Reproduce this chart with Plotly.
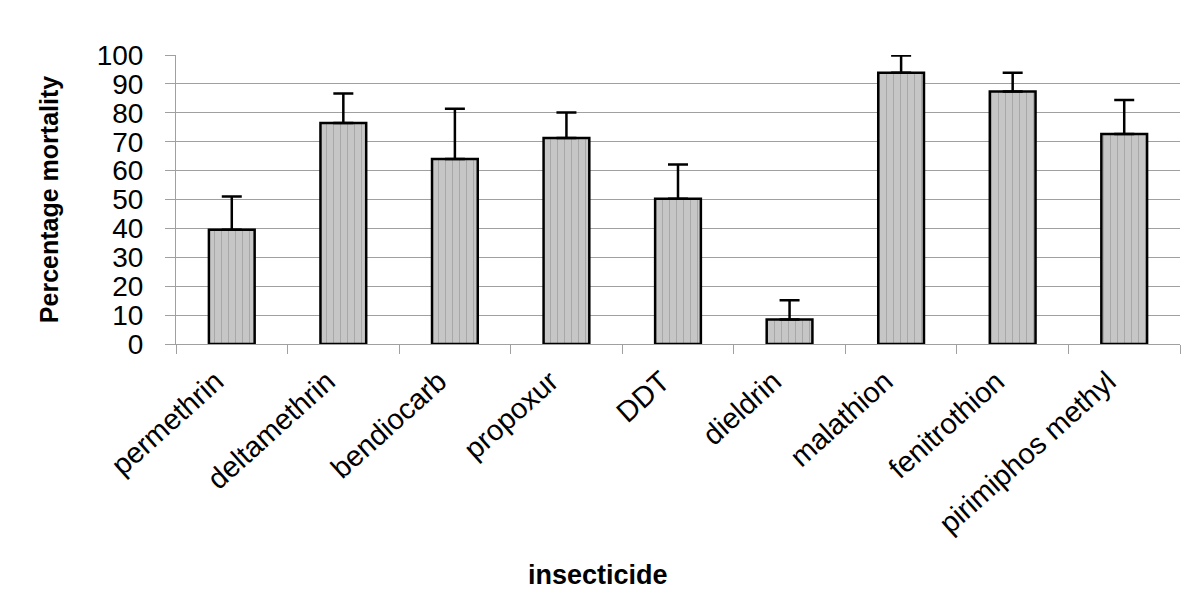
import plotly.graph_objects as go

categories = ["permethrin", "deltamethrin", "bendiocarb", "propoxur", "DDT",
              "dieldrin", "malathion", "fenitrothion", "pirimiphos methyl"]
mortality = [39.5, 76.5, 64.0, 71.3, 50.3, 8.5, 93.9, 87.4, 72.7]
error_up = [11.5, 10.2, 17.4, 8.8, 11.8, 6.6, 5.9, 6.5, 11.7]
y_ticks = [0, 10, 20, 30, 40, 50, 60, 70, 80, 90, 100]
grid_vals = [10, 20, 30, 40, 50, 60, 70, 80, 90]

FONT = "Liberation Sans, Arial, sans-serif"
GRID = "#a0a0a0"
OFF = 8  # default page body margin

fig = go.Figure(
    go.Bar(
        x=categories,
        y=mortality,
        marker=dict(
            color="#c2c2c2",
            line=dict(color="black", width=2.5),
            pattern=dict(shape="|", fgcolor="#8a8a8a", bgcolor="#c6c6c6",
                         size=7, solidity=0.15),
        ),
        error_y=dict(type="data", symmetric=False, array=error_up,
                     arrayminus=[0] * len(error_up),
                     color="black", thickness=2.5, width=10),
    )
)

fig.update_layout(
    width=1200 - OFF, height=609 - OFF,
    margin=dict(l=176 - OFF, r=20, t=55 - OFF, b=265, autoexpand=False),
    paper_bgcolor="white", plot_bgcolor="white",
    bargap=0.59,
    showlegend=False,
    font=dict(family=FONT, color="black"),
)

fig.update_xaxes(
    type="category",
    showline=True, linecolor=GRID, linewidth=1,
    ticks="outside", tickson="boundaries", ticklen=9, tickcolor=GRID,
    tickangle=-42, ticklabelstandoff=8, ticklabelshift=-16,
    tickfont=dict(size=29, family=FONT, color="black"),
    showgrid=False, automargin=False,
)

fig.update_yaxes(
    range=[0, 100], tickmode="array", tickvals=y_ticks,
    showgrid=False, zeroline=False,
    showline=True, linecolor=GRID, linewidth=1,
    ticks="outside", ticklen=10, tickcolor=GRID,
    ticklabelstandoff=16,
    tickfont=dict(size=28, family=FONT, color="black"),
    minor=dict(tickmode="array", tickvals=grid_vals, showgrid=True,
               gridcolor=GRID, gridwidth=1, ticks=""),
    title=dict(text="Percentage mortality",
               font=dict(size=25, family=FONT, color="black", weight="bold"),
               standoff=30),
    automargin=False,
)

fig.add_annotation(
    text="insecticide", xref="paper", yref="paper",
    x=(598 - 176) / 1004, y=-(575 - 344) / 289,
    xanchor="center", yanchor="middle", showarrow=False,
    font=dict(size=27, family=FONT, color="black", weight="bold"),
)

fig.write_html("out.html")
